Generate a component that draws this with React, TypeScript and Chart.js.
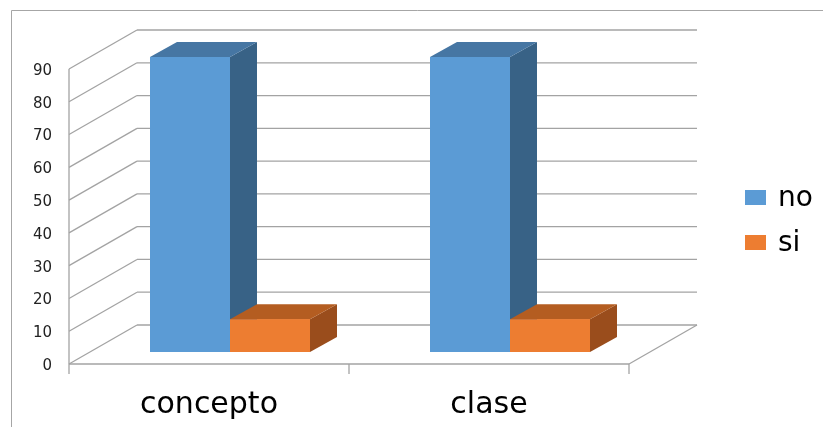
import React, { useEffect, useRef } from "react";
import { Chart, registerables } from "chart.js";

Chart.register(...registerables);

// Data
const categories = ["concepto", "clase"];
const seriesNames = ["no", "si"];
const noValues = [90, 90];
const siValues = [10, 10];
const yTickValues = [0, 10, 20, 30, 40, 50, 60, 70, 80, 90];

// Face colours per series: front, top, side
const frontColors = ["#5B9BD5", "#ED7D31"];
const topColors = ["#4676A3", "#B45D21"];
const sideColors = ["#386286", "#9A4D1C"];

// Perspective offsets relative to the plane the bar fronts sit in
const FRONT = { dx: -21, dy: 12 };
const BACK = { dx: 47, dy: -27 };
const BAR_DEPTH = { dx: 27, dy: -15 };
const GRID = "#A3A3A3";
const FONT = "'DejaVu Sans', Verdana, sans-serif";

function line(ctx: CanvasRenderingContext2D, x1: number, y1: number, x2: number, y2: number) {
  ctx.beginPath();
  ctx.moveTo(x1, y1);
  ctx.lineTo(x2, y2);
  ctx.stroke();
}

function poly(ctx: CanvasRenderingContext2D, pts: number[][], color: string) {
  ctx.beginPath();
  ctx.moveTo(pts[0][0], pts[0][1]);
  for (let i = 1; i < pts.length; i++) ctx.lineTo(pts[i][0], pts[i][1]);
  ctx.closePath();
  ctx.fillStyle = color;
  ctx.fill();
}

const frame3d = {
  id: "frame3d",
  beforeDraw(chart: any) {
    const { ctx, width, height } = chart;
    ctx.save();
    ctx.strokeStyle = "#A6A6A6";
    ctx.lineWidth = 1;
    line(ctx, 11.5, height, 11.5, 10.5);
    line(ctx, 11.5, 10.5, width, 10.5);
    ctx.restore();
  },
  beforeDatasetsDraw(chart: any) {
    const { ctx, chartArea, scales } = chart;
    const ys = scales.y;
    const l = chartArea.left;
    const r = chartArea.right;
    ctx.save();
    ctx.strokeStyle = GRID;
    ctx.lineWidth = 1.3;
    ys.ticks.forEach((t: any) => {
      const py = ys.getPixelForValue(t.value);
      // side wall
      line(ctx, l + FRONT.dx, py + FRONT.dy, l + BACK.dx, py + BACK.dy);
      // back wall
      line(ctx, l + BACK.dx, py + BACK.dy, r + BACK.dx, py + BACK.dy);
    });
    const y0 = ys.getPixelForValue(0);
    const yMax = ys.getPixelForValue(ys.max);
    // front vertical axis
    line(ctx, l + FRONT.dx, yMax + FRONT.dy, l + FRONT.dx, y0 + FRONT.dy + 10);
    // floor edges
    line(ctx, l + FRONT.dx, y0 + FRONT.dy, r + FRONT.dx, y0 + FRONT.dy);
    line(ctx, r + FRONT.dx, y0 + FRONT.dy, r + BACK.dx, y0 + BACK.dy);
    // category separators on the floor edge
    const step = (r - l) / categories.length;
    for (let i = 1; i <= categories.length; i++) {
      const bx = l + i * step + FRONT.dx;
      line(ctx, bx, y0 + FRONT.dy, bx, y0 + FRONT.dy + 10);
    }
    ctx.restore();
  },
  afterDatasetsDraw(chart: any) {
    const { ctx } = chart;
    ctx.save();
    chart.data.datasets.forEach((ds: any, di: number) => {
      const meta = chart.getDatasetMeta(di);
      meta.data.forEach((el: any) => {
        const { x, y, base, width } = el.getProps(["x", "y", "base", "width"], true);
        const left = x - width / 2;
        const right = x + width / 2;
        const d = BAR_DEPTH;
        poly(ctx, [[right, y], [right + d.dx, y + d.dy], [right + d.dx, base + d.dy], [right, base]], sideColors[di]);
        poly(ctx, [[left, y], [right, y], [right + d.dx, y + d.dy], [left + d.dx, y + d.dy]], topColors[di]);
        ctx.fillStyle = ds.backgroundColor;
        ctx.fillRect(left, y, width, base - y);
      });
    });
    ctx.restore();
  },
  afterDraw(chart: any) {
    const { ctx, chartArea } = chart;
    ctx.save();
    const bx = chartArea.right + 95;
    const rows = [205, 250];
    chart.data.datasets.forEach((ds: any, i: number) => {
      const by = rows[i];
      ctx.fillStyle = ds.backgroundColor;
      ctx.fillRect(bx, by - 15, 21, 15);
      ctx.fillStyle = "#000";
      ctx.font = `28px ${FONT}`;
      ctx.textBaseline = "alphabetic";
      ctx.textAlign = "left";
      ctx.fillText(ds.label, bx + 33, by + 1);
    });
    ctx.restore();
  },
};

export default function App() {
  const ref = useRef<HTMLCanvasElement>(null);

  useEffect(() => {
    if (!ref.current) return;
    const chart = new Chart(ref.current, {
      type: "bar",
      data: {
        labels: categories,
        datasets: [
          { label: seriesNames[0], data: noValues, backgroundColor: frontColors[0], categoryPercentage: 160 / 280, barPercentage: 1 },
          { label: seriesNames[1], data: siValues, backgroundColor: frontColors[1], categoryPercentage: 160 / 280, barPercentage: 1 },
        ],
      },
      options: {
        responsive: false,
        animation: false,
        layout: { padding: { left: 0, top: 57, right: 173, bottom: 0 } },
        plugins: { legend: { display: false }, tooltip: { enabled: false } },
        scales: {
          x: {
            grid: { display: false, drawTicks: false },
            border: { display: false },
            ticks: { font: { family: FONT, size: 30 }, color: "#000", labelOffset: FRONT.dx, padding: 35 },
            afterFit: (s: any) => { s.height = 75; },
          },
          y: {
            min: 0,
            max: 90,
            afterBuildTicks: (s: any) => { s.ticks = yTickValues.map((v) => ({ value: v })); },
            grid: { display: false, drawTicks: false },
            border: { display: false },
            ticks: { font: { family: FONT, size: 15 }, color: "#222", labelOffset: FRONT.dy + 2, padding: 38 },
            afterFit: (s: any) => { s.width = 90; },
          },
        },
      },
      plugins: [frame3d],
    });
    return () => chart.destroy();
  }, []);

  return (
    <div style={{ position: "fixed", left: 0, top: 0, width: 823, height: 427, background: "#fff" }}>
      <canvas ref={ref} width={823} height={427} style={{ display: "block" }} />
    </div>
  );
}
